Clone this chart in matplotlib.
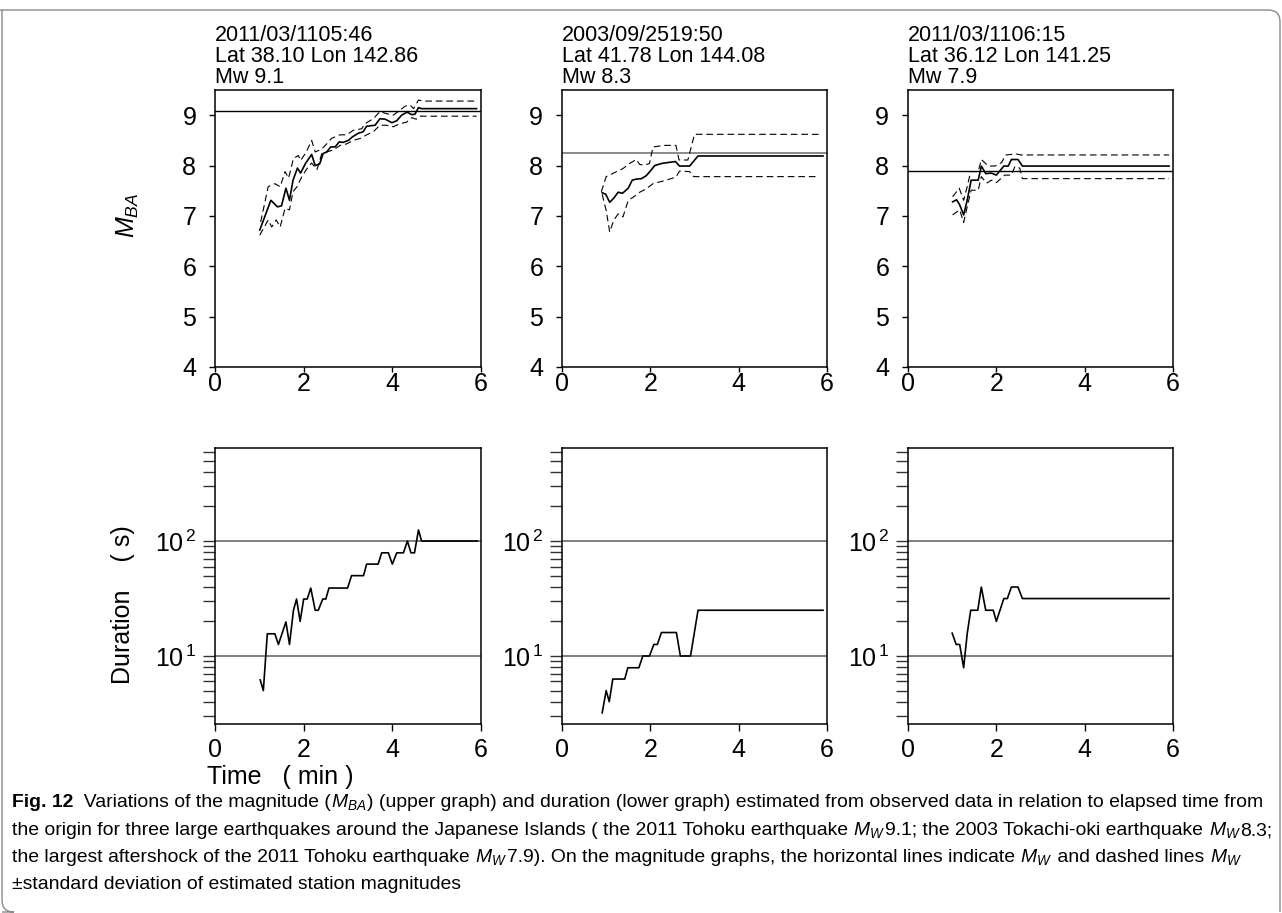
import matplotlib
matplotlib.use('Agg')
import matplotlib.pyplot as plt
from matplotlib import font_manager
from matplotlib.path import Path
from matplotlib.patches import PathPatch
from matplotlib.ticker import LogLocator, NullFormatter

W, H = 1282, 913

# ---- data ----
titles = ["2011/03/1105:46\nLat 38.10 Lon 142.86\nMw 9.1",
          "2003/09/2519:50\nLat 41.78 Lon 144.08\nMw 8.3",
          "2011/03/1106:15\nLat 36.12 Lon 141.25\nMw 7.9"]
mw_values = [9.08, 8.25, 7.89]

p1_t = [1.01, 1.26, 1.41, 1.50, 1.60, 1.68, 1.76, 1.86, 1.93, 2.04, 2.18, 2.26, 2.36, 2.44, 2.52, 2.61, 2.71, 2.80,
        2.89, 3.01, 3.10, 3.23, 3.34, 3.42, 3.61, 3.72, 3.84, 3.99, 4.10, 4.21, 4.33, 4.44, 4.51, 4.59, 4.66, 5.90]
p1_m = [6.72, 7.31, 7.18, 7.20, 7.55, 7.31, 7.71, 7.95, 7.85, 8.04, 8.22, 8.00, 8.03, 8.24, 8.27, 8.37, 8.37, 8.47,
        8.46, 8.50, 8.57, 8.64, 8.67, 8.78, 8.80, 8.93, 8.92, 8.85, 8.89, 9.00, 9.06, 9.01, 9.02, 9.15, 9.13, 9.13]
p1_hi_t = [1.03, 1.20, 1.35, 1.47, 1.58, 1.66, 1.77, 1.88, 1.93, 2.06, 2.18, 2.26, 2.41, 2.52, 2.63, 2.82, 2.97,
           3.12, 3.31, 3.38, 3.57, 3.72, 3.87, 4.02, 4.13, 4.29, 4.40, 4.48, 4.59, 4.70, 5.90]
p1_hi = [6.88, 7.58, 7.64, 7.58, 7.88, 7.75, 8.14, 8.20, 8.10, 8.27, 8.50, 8.27, 8.33, 8.43, 8.54, 8.61, 8.61,
         8.70, 8.73, 8.83, 8.93, 9.07, 9.03, 9.00, 9.07, 9.18, 9.20, 9.13, 9.30, 9.28, 9.28]
p1_lo_t = [1.01, 1.20, 1.28, 1.38, 1.47, 1.58, 1.68, 1.76, 1.85, 1.96, 2.06, 2.18, 2.30, 2.41, 2.52, 2.67, 2.82,
           2.97, 3.12, 3.28, 3.42, 3.57, 3.72, 3.87, 4.02, 4.17, 4.32, 4.44, 4.54, 4.62, 5.90]
p1_lo = [6.62, 6.92, 6.78, 6.92, 6.78, 7.15, 7.12, 7.48, 7.58, 7.78, 7.92, 8.05, 7.92, 8.24, 8.27, 8.31, 8.40,
         8.43, 8.50, 8.54, 8.61, 8.67, 8.80, 8.80, 8.77, 8.83, 8.86, 8.95, 8.92, 8.98, 8.98]

p2_t = [0.91, 0.99, 1.08, 1.17, 1.27, 1.37, 1.50, 1.59, 1.68, 1.80, 1.91, 1.99, 2.10, 2.25, 2.40, 2.57, 2.66, 2.89,
        3.08, 5.91]
p2_m = [7.46, 7.43, 7.27, 7.35, 7.47, 7.45, 7.55, 7.71, 7.73, 7.74, 7.80, 7.88, 8.00, 8.04, 8.06, 8.08, 7.99, 7.99,
        8.19, 8.19]
p2_hi_t = [0.89, 1.00, 1.19, 1.38, 1.53, 1.68, 1.76, 1.87, 1.98, 2.06, 2.32, 2.58, 2.65, 2.85, 3.00, 5.88]
p2_hi = [7.48, 7.78, 7.86, 7.94, 8.04, 8.12, 8.02, 8.01, 8.04, 8.37, 8.40, 8.40, 8.11, 8.11, 8.62, 8.62]
p2_lo_t = [0.91, 1.00, 1.08, 1.17, 1.27, 1.38, 1.50, 1.61, 1.76, 1.91, 2.06, 2.32, 2.58, 2.66, 2.89, 2.98, 5.76]
p2_lo = [7.43, 7.11, 6.68, 6.91, 7.04, 6.98, 7.31, 7.37, 7.47, 7.54, 7.64, 7.70, 7.77, 7.89, 7.88, 7.78, 7.78]

p3_t = [1.01, 1.10, 1.17, 1.26, 1.34, 1.43, 1.59, 1.66, 1.76, 1.89, 2.00, 2.17, 2.27, 2.34, 2.49, 2.59, 5.91]
p3_m = [7.28, 7.32, 7.22, 7.02, 7.31, 7.71, 7.71, 7.99, 7.84, 7.85, 7.81, 7.99, 7.99, 8.12, 8.12, 7.99, 7.99]
p3_hi_t = [1.01, 1.16, 1.26, 1.34, 1.42, 1.59, 1.66, 1.82, 1.97, 2.12, 2.21, 2.45, 2.56, 5.91]
p3_hi = [7.38, 7.55, 7.31, 7.58, 7.88, 7.88, 8.12, 7.99, 7.99, 8.06, 8.21, 8.23, 8.21, 8.21]
p3_lo_t = [1.01, 1.17, 1.26, 1.34, 1.43, 1.59, 1.66, 1.78, 1.89, 2.00, 2.19, 2.34, 2.42, 2.53, 2.59, 5.91]
p3_lo = [7.02, 7.12, 6.87, 7.18, 7.51, 7.51, 7.78, 7.65, 7.71, 7.66, 7.81, 7.81, 7.98, 7.95, 7.74, 7.74]

p1_dur_t = [1.02, 1.09, 1.18, 1.35, 1.43, 1.60, 1.68, 1.77, 1.84, 1.92, 2.00, 2.08, 2.16, 2.26, 2.33, 2.43, 2.50,
            2.57, 2.99, 3.08, 3.35, 3.42, 3.68, 3.76, 3.91, 4.00, 4.10, 4.25, 4.34, 4.42, 4.50, 4.59, 4.66, 5.92]
p1_dur = [6.2, 5.0, 15.6, 15.6, 12.6, 19.8, 12.6, 25, 31.3, 20, 31.3, 31.3, 39, 25, 25, 31.3, 31.3,
          39, 39, 50, 50, 63, 63, 79, 79, 63, 79, 79, 100, 79, 79, 125, 100, 100]
p2_dur_t = [0.91, 1.00, 1.07, 1.15, 1.42, 1.49, 1.74, 1.83, 1.98, 2.08, 2.16, 2.25, 2.59, 2.68, 2.91, 3.08, 5.91]
p2_dur = [3.2, 5.0, 4.0, 6.3, 6.3, 7.9, 7.9, 10, 10, 12.6, 12.6, 16, 16, 10, 10, 25, 25]
p3_dur_t = [1.00, 1.09, 1.17, 1.26, 1.34, 1.42, 1.58, 1.66, 1.76, 1.93, 2.00, 2.17, 2.25, 2.34, 2.49, 2.59, 5.91]
p3_dur = [15.8, 12.6, 12.6, 7.9, 15.6, 25, 25, 39.8, 25, 25, 20, 31.6, 31.6, 39.8, 39.8, 31.6, 31.6]

mag_ticks = [4, 5, 6, 7, 8, 9]
time_ticks = [0, 2, 4, 6]
dur_ticks = [10, 100]
dur_ticklabels = [r'$10^{\,1}$', r'$10^{\,2}$']

panels = [
    (p1_t, p1_m, p1_hi_t, p1_hi, p1_lo_t, p1_lo, p1_dur_t, p1_dur, 'black'),
    (p2_t, p2_m, p2_hi_t, p2_hi, p2_lo_t, p2_lo, p2_dur_t, p2_dur, '#777777'),
    (p3_t, p3_m, p3_hi_t, p3_hi, p3_lo_t, p3_lo, p3_dur_t, p3_dur, 'black'),
]

# ---- style ----
plt.rcParams['font.family'] = ['Liberation Sans', 'DejaVu Sans']
plt.rcParams['mathtext.fontset'] = 'custom'
plt.rcParams['mathtext.rm'] = 'Liberation Sans'
plt.rcParams['mathtext.it'] = 'Liberation Sans:italic'
plt.rcParams['mathtext.bf'] = 'Liberation Sans:bold'

fig = plt.figure(figsize=(W / 100, H / 100), dpi=100)


def box(x0, y0, x1, y1):
    # pixel box (top-left origin) -> figure fraction rect
    return [x0 / W, 1 - y1 / H, (x1 - x0) / W, (y1 - y0) / H]


lefts = [(215, 481), (562, 827), (908, 1173)]
dash = (0, (6, 3.5))

for i, (xl, xr) in enumerate(lefts):
    t, m, hi_t, hi, lo_t, lo, d_t, d, mw_col = panels[i]

    # upper: magnitude
    ax = fig.add_axes(box(xl, 90, xr, 367))
    ax.axhline(mw_values[i], color=mw_col, lw=1.2 if i == 1 else 1.0, zorder=1)
    ax.plot(hi_t, hi, color='black', lw=0.8, ls=dash)
    ax.plot(lo_t, lo, color='black', lw=0.8, ls=dash)
    ax.plot(t, m, color='black', lw=1.2)
    ax.set_xlim(0, 6)
    ax.set_ylim(4, 9.5)
    ax.set_xticks(time_ticks)
    ax.set_yticks(mag_ticks)
    ax.tick_params(axis='x', direction='out', length=3.5, width=1, pad=0, labelsize=18)
    ax.tick_params(axis='y', direction='out', length=4.5, width=1, pad=9, labelsize=18)
    for s in ax.spines.values():
        s.set_linewidth(1.1)
    fig.text(xl / W, 1 - 25 / H, titles[i], ha='left', va='top', fontsize=15.5, linespacing=1.0)

    # lower: duration
    ax2 = fig.add_axes(box(xl, 448, xr, 724))
    ax2.set_yscale('log')
    for v in dur_ticks:
        ax2.axhline(v, color='#6a6a6a', lw=1.2, zorder=1)
    ax2.plot(d_t, d, color='black', lw=1.2)
    ax2.set_xlim(0, 6)
    ax2.set_ylim(2.56, 645)
    ax2.set_xticks(time_ticks)
    ax2.set_yticks(dur_ticks)
    ax2.set_yticklabels(dur_ticklabels)
    ax2.yaxis.set_minor_locator(LogLocator(base=10, subs=range(2, 10)))
    ax2.yaxis.set_minor_formatter(NullFormatter())
    ax2.tick_params(axis='x', direction='out', length=5, width=1, pad=5, labelsize=18)
    ax2.tick_params(axis='y', which='both', direction='out', length=8.5, width=1, pad=5,
                    labelsize=18, color='#333333')
    for s in ax2.spines.values():
        s.set_linewidth(1.1)

# axis labels
fig.text(128 / W, 1 - 215 / H, r'$M_{BA}$', rotation=90, ha='center', va='center', fontsize=18)
fig.text(123 / W, 1 - 605 / H, 'Duration    ( s)', rotation=90, ha='center', va='center', fontsize=18)
fig.text(280 / W, 1 - 777 / H, 'Time   ( min )', ha='center', va='center', fontsize=18)

# ---- frame with rounded top-right and bottom-left corners ----
r = 12
verts = [(0, 10), (W - 2 - r, 10), (W - 2, 10), (W - 2, 10 + r), (W - 2, H - 1),
         (2, H - 1), (2 + r, H - 1), (2, H - 1), (2, H - 1 - r), (2, 10)]
codes = [Path.MOVETO, Path.LINETO, Path.CURVE3, Path.CURVE3, Path.LINETO,
         Path.MOVETO, Path.LINETO, Path.CURVE3, Path.CURVE3, Path.LINETO]
verts = [(x / W, 1 - y / H) for x, y in verts]
fig.patches.append(PathPatch(Path(verts, codes), transform=fig.transFigure, fill=False,
                             edgecolor='#8a8a8a', lw=1.0))

# ---- caption ----
avail = {f.name for f in font_manager.fontManager.ttflist}
cap_family = 'Liberation Sans Narrow' if 'Liberation Sans Narrow' in avail else 'Liberation Sans'
renderer = fig.canvas.get_renderer()

caption = [
    [('Fig. 12', 'b'), ('  Variations of the magnitude (', 'r'), ('$M_{BA}$', 'm'),
     (') (upper graph) and duration (lower graph) estimated from observed data in relation to elapsed time from', 'r')],
    [('the origin for three large earthquakes around the Japanese Islands ( the 2011 Tohoku earthquake ', 'r'),
     ('$M_W$', 'm'), ('9.1; the 2003 Tokachi-oki earthquake ', 'r'), ('$M_W$', 'm'), ('8.3;', 'r')],
    [('the largest aftershock of the 2011 Tohoku earthquake ', 'r'), ('$M_W$', 'm'),
     ('7.9). On the magnitude graphs, the horizontal lines indicate ', 'r'), ('$M_W$', 'm'),
     (' and dashed lines ', 'r'), ('$M_W$', 'm')],
    [('±standard deviation of estimated station magnitudes', 'r')],
]
baselines = [807, 835, 862, 889]


def seg_width(txt, kind, size):
    kw = dict(fontsize=size, family=cap_family, fontweight='bold' if kind == 'b' else 'normal')
    if kind == 'm':
        tt = fig.text(0, 0, txt, **kw)
        w = tt.get_window_extent(renderer).width
        tt.remove()
        return w
    a = fig.text(0, 0, txt + '|', **kw)
    b = fig.text(0, 0, '|', **kw)
    w = a.get_window_extent(renderer).width - b.get_window_extent(renderer).width
    a.remove()
    b.remove()
    return w


base_size = 10
w1 = sum(seg_width(s, k, base_size) for s, k in caption[0])
cap_size = base_size * (1254 / w1)

for line, yb in zip(caption, baselines):
    x = 12
    for txt, kind in line:
        fig.text(x / W, 1 - yb / H, txt, fontsize=cap_size, family=cap_family,
                 fontweight='bold' if kind == 'b' else 'normal', ha='left', va='baseline')
        x += seg_width(txt, kind, cap_size)

fig.savefig('out.png', dpi=100)
